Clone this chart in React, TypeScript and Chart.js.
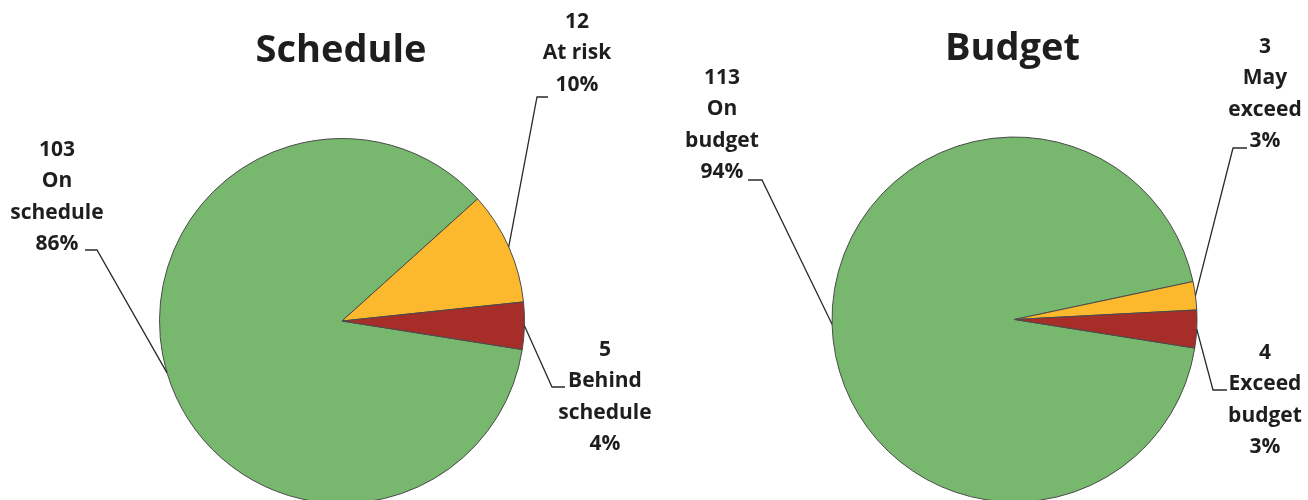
import React, { useEffect, useRef } from "react";
import { Chart, registerables } from "chart.js";

Chart.register(...registerables);

// ---- data ----
const scheduleTitle = "Schedule";
const scheduleCategories = [["On", "schedule"], ["At risk"], ["Behind", "schedule"]];
const scheduleValues = [103, 12, 5];

const budgetTitle = "Budget";
const budgetCategories = [["On", "budget"], ["May", "exceed"], ["Exceed", "budget"]];
const budgetValues = [113, 3, 4];

// ---- styles ----
const sliceColors = ["#77B86E", "#FDB92D", "#A62D28"];
const FONT = "'Open Sans', Lato, 'DejaVu Sans', sans-serif";
const TEXT_COLOR = "#1e1e1e";

// ---- layout (offsets relative to pie centre, px) ----
type Placement = { elbow: [number, number]; tick: number; text: [number, number] };
const schedulePlacement: Placement[] = [
  { elbow: [-245, -71], tick: -257, text: [-285, -171] },
  { elbow: [195, -224], tick: 206, text: [235, -299] },
  { elbow: [210, 66], tick: 223, text: [263, 29] },
];
const budgetPlacement: Placement[] = [
  { elbow: [-252.5, -139.5], tick: -266.5, text: [-292.5, -241.5] },
  { elbow: [218.5, -171.5], tick: 232.5, text: [250.5, -272.5] },
  { elbow: [198.5, 70.5], tick: 212.5, text: [250.5, 33.5] },
];

const calloutPlugin = {
  id: "callouts",
  afterDatasetsDraw(chart: any, _args: any, opts: any) {
    const ctx = chart.ctx as CanvasRenderingContext2D;
    const meta = chart.getDatasetMeta(0);
    const data = chart.data.datasets[0].data as number[];
    const total = data.reduce((a, b) => a + b, 0);
    const labels = chart.data.labels as string[][];
    ctx.save();
    const first = meta.data[0].getProps(["x", "y"], true);
    ctx.fillStyle = TEXT_COLOR;
    ctx.font = `bold ${opts.titleSize}px ${FONT}`;
    ctx.textAlign = "center";
    ctx.textBaseline = "alphabetic";
    ctx.fillText(opts.title, first.x + opts.titleDx, opts.titleBaseline);

    meta.data.forEach((el: any, i: number) => {
      const p = el.getProps(["x", "y", "startAngle", "endAngle", "outerRadius"], true);
      const mid = (p.startAngle + p.endAngle) / 2;
      const ax = p.x + Math.cos(mid) * p.outerRadius;
      const ay = p.y + Math.sin(mid) * p.outerRadius;
      const pl: Placement = opts.placement[i];
      const ex = p.x + pl.elbow[0];
      const ey = p.y + pl.elbow[1];
      ctx.beginPath();
      ctx.moveTo(ax, ay);
      ctx.lineTo(ex, ey);
      ctx.lineTo(p.x + pl.tick, ey);
      ctx.strokeStyle = "#2a2a2a";
      ctx.lineWidth = 1.3;
      ctx.stroke();

      const lines = [String(data[i]), ...labels[i], Math.round((data[i] / total) * 100) + "%"];
      ctx.font = `bold ${opts.labelSize}px ${FONT}`;
      ctx.textAlign = "center";
      ctx.textBaseline = "middle";
      ctx.fillStyle = TEXT_COLOR;
      lines.forEach((t, k) => {
        ctx.fillText(t, p.x + pl.text[0], p.y + pl.text[1] + k * opts.lineGap);
      });
    });
    ctx.restore();
  },
};

function PieCanvas(props: {
  title: string;
  categories: string[][];
  values: number[];
  placement: Placement[];
  padding: { left: number; right: number; top: number; bottom: number };
  titleBaseline: number;
  titleDx: number;
  left: number;
}) {
  const ref = useRef<HTMLCanvasElement>(null);
  useEffect(() => {
    if (!ref.current) return;
    const chart = new Chart(ref.current, {
      type: "pie",
      data: {
        labels: props.categories as any,
        datasets: [
          {
            data: props.values,
            backgroundColor: sliceColors,
            borderColor: "#4a4a4a",
            borderWidth: 1,
          },
        ],
      },
      options: {
        animation: false,
        responsive: false,
        events: [],
        rotation: 99,
        layout: { padding: props.padding },
        plugins: {
          legend: { display: false },
          tooltip: { enabled: false },
          title: { display: false },
          callouts: {
            title: props.title,
            titleSize: 38,
            titleBaseline: props.titleBaseline,
            titleDx: props.titleDx,
            labelSize: 21,
            lineGap: 31.5,
            placement: props.placement,
          },
        } as any,
      },
      plugins: [calloutPlugin],
    });
    return () => chart.destroy();
  }, []);
  return (
    <canvas
      ref={ref}
      width={654}
      height={540}
      style={{ position: "absolute", left: props.left, top: 0, width: 654, height: 540 }}
    />
  );
}

export default function App() {
  useEffect(() => {
    document.body.style.margin = "0";
  }, []);
  return (
    <div
      style={{
        position: "absolute",
        left: 0,
        top: 0,
        width: 1308,
        height: 500,
        overflow: "hidden",
        background: "#ffffff",
      }}
    >
      <PieCanvas
        title={scheduleTitle}
        categories={scheduleCategories}
        values={scheduleValues}
        placement={schedulePlacement}
        padding={{ left: 159, right: 129, top: 138, bottom: 36 }}
        titleBaseline={62}
        titleDx={-1}
        left={0}
      />
      <PieCanvas
        title={budgetTitle}
        categories={budgetCategories}
        values={budgetValues}
        placement={budgetPlacement}
        padding={{ left: 177.5, right: 110.5, top: 136.5, bottom: 37.5 }}
        titleBaseline={60}
        titleDx={-2}
        left={654}
      />
    </div>
  );
}
